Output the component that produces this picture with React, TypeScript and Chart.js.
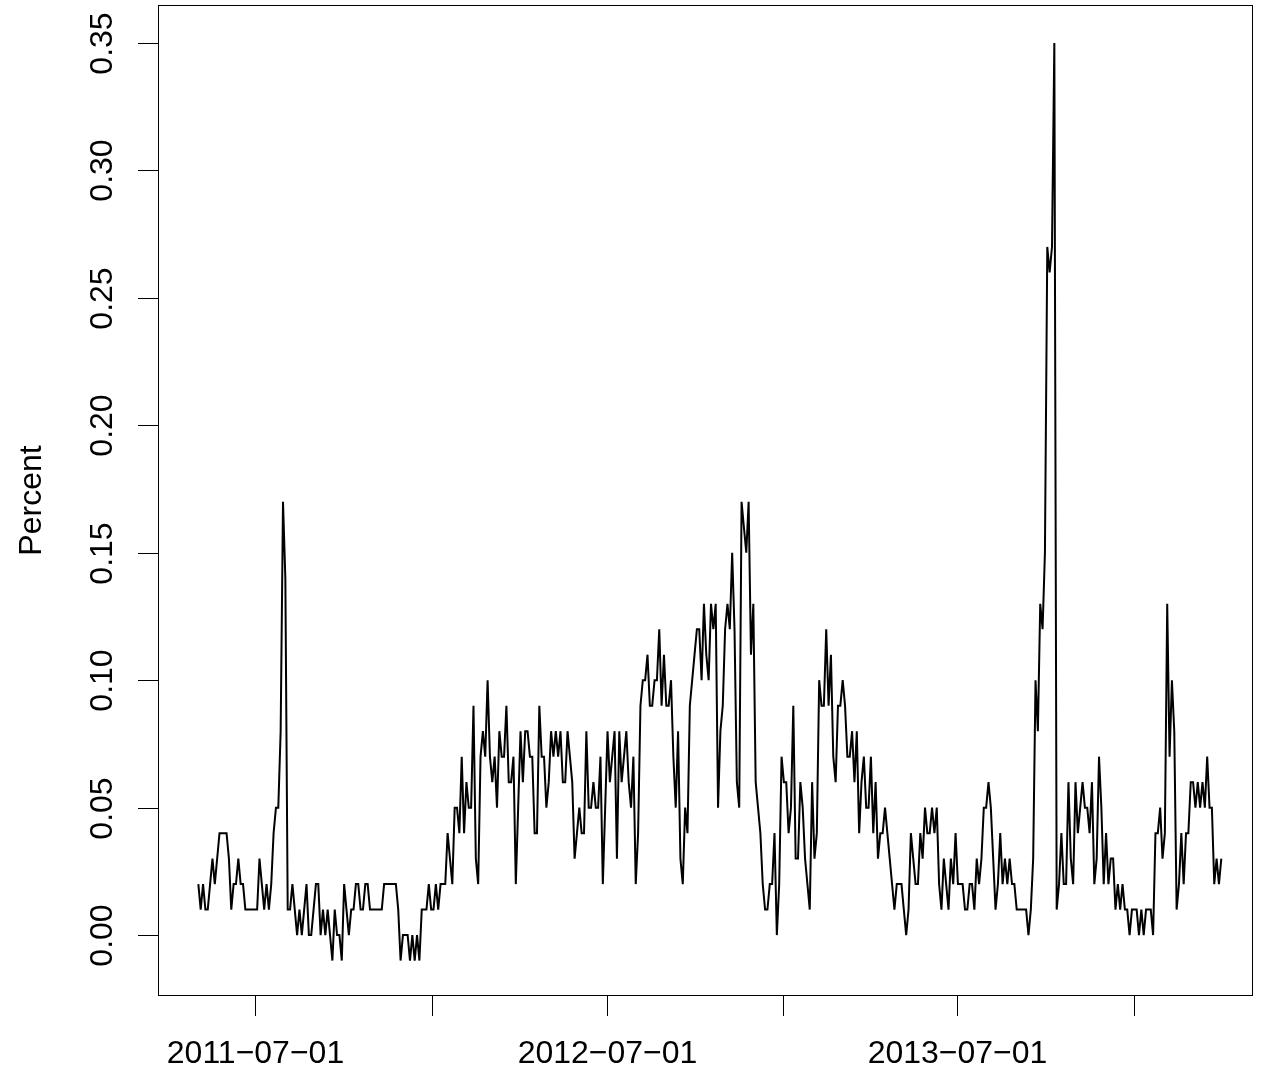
import React, { useEffect, useRef } from "react";
import { Chart, registerables } from "chart.js";
Chart.register(...registerables);

// values in hundredths of a percent, uniformly sampled
const seg1 = [2,1,2,1, 1,2,3,2,3, 4,4,4,4, 3,1,2,2,3,2,2, 1,1,1,1,1,1, 3,2,1,2,1,2, 4,5,5,8,17,14,
  1,1,2,1,0,1,0, 1,2,0,0,1,2,2,0,1,0,1, 0,-1,1,0,0,-1,2,1, 0,1,1,2,2,1,1,2,2,1, 1,1,1,1,1, 2,2,2,2,2,2,
  1,-1,0,0,0,-1,0,-1,0,-1, 1,1,1,2];
const seg2 = [1,1,2,1,2,2,2, 4,3,2,5,5,4,7,4,6,5,5, 9,3,2,7,8,7,10,7,6,7,5, 8,7,7,9,6,6,7,
  2,5,8,6,8,8,7,7,4,4,9, 7,7,5,6,8,7,8,7,8,6,6, 8,7,6,3,4,5,4,4, 8,5,5,6,5,5,7,2,5,8,6,
  7,8,3,8,6,7,8,6,5,7, 2,4,9,10,10,11,9,9,10,10, 12,9,11,9,9,10];
const seg3 = [7,5,8,3,2,5,4,9, 10,11,12,12,10,13,11,10,13,12,13, 5,8,9,12,13,12,15,12,6,5,17,16,15,17,11,13,
  6,5,4,2,1,1,2,2,4,0,2, 7,6,6,4,5,9,3,3,6,5,3, 2,1,6,3,4,10,9,9,12,9,11, 7,6,9,9,10,9,7,7,8,6,8,
  4,6,7,5,5,7,4,6,3,4,4, 5,4,3,2,1,2,2,2,1,0,1,4];
const seg4 = [3,2,2,4,3,5,4,4,5,4,5, 2,1,3,2,1,3,2, 4,2,2,2,1,1,2,2,1,3,2, 3,5,5,6,5,3,1,2,
  4,2,3,2,3,2,2,1,1,1,1,1,0,1,3, 10,8,13,12,15,27,26,27,35,1, 2,4,2,2,6,3,2,6,4,5,6,5,5,4,6,
  2,3,7,5,2,4,2,3,3,1,2,1,2, 1,1,0,1,1,1,0,1,0,1,1,1,0, 4,4,5,3,4,13,7,10,8,1,
  2,4,2,4,4,6,6,5,6, 5,6,5,7,5,5,2,3,2,3];
const hundredths = [...seg1, ...seg2, ...seg3, ...seg4];

// days relative to 2011-07-01
const startDay = -59;
const endDay = 1006;
const tickDays = [0, 184, 366, 550, 731, 915];
const tickLabels = ["2011\u221207\u221201", "", "2012\u221207\u221201", "", "2013\u221207\u221201", ""];
const yTicks = [0, 0.05, 0.1, 0.15, 0.2, 0.25, 0.3, 0.35];
const yTickLabels = ["0.00", "0.05", "0.10", "0.15", "0.20", "0.25", "0.30", "0.35"];

export default function App() {
  const ref = useRef<HTMLCanvasElement>(null);
  useEffect(() => {
    const n = hundredths.length;
    const data = hundredths.map((v, i) => ({ x: startDay + (i * (endDay - startDay)) / (n - 1), y: v / 100 }));
    const axes = {
      id: "rAxes",
      afterDraw(c: any) {
        const ctx = c.ctx;
        const a = c.chartArea;
        const xs = c.scales.x, ys = c.scales.y;
        ctx.save();
        ctx.strokeStyle = "#000";
        ctx.lineWidth = 1;
        ctx.strokeRect(a.left + 0.5, a.top + 0.5, a.right - a.left - 1, a.bottom - a.top - 1);
        ctx.fillStyle = "#000";
        ctx.font = "32px 'Liberation Sans', Arial, sans-serif";
        ctx.textAlign = "center";
        ctx.textBaseline = "middle";
        tickDays.forEach((d, i) => {
          const px = Math.round(xs.getPixelForValue(d)) + 0.5;
          ctx.beginPath();
          ctx.moveTo(px, a.bottom);
          ctx.lineTo(px, a.bottom + 20);
          ctx.stroke();
          if (tickLabels[i]) ctx.fillText(tickLabels[i], px, a.bottom + 58);
        });
        yTicks.forEach((v, i) => {
          const py = Math.round(ys.getPixelForValue(v)) + 0.5;
          ctx.beginPath();
          ctx.moveTo(a.left, py);
          ctx.lineTo(a.left - 20, py);
          ctx.stroke();
          ctx.save();
          ctx.translate(a.left - 55, py);
          ctx.rotate(-Math.PI / 2);
          ctx.fillText(yTickLabels[i], 0, 0);
          ctx.restore();
        });
        ctx.save();
        ctx.translate(32, (a.top + a.bottom) / 2);
        ctx.rotate(-Math.PI / 2);
        ctx.fillText("Percent", 0, 0);
        ctx.restore();
        ctx.restore();
      },
    };
    const chart = new Chart(ref.current!, {
      type: "line",
      data: { datasets: [{ data, borderColor: "#000", borderWidth: 2, pointRadius: 0, tension: 0, fill: false }] },
      options: {
        animation: false,
        responsive: false,
        layout: { padding: { left: 158, right: 19, top: 5, bottom: 76 } },
        plugins: { legend: { display: false }, tooltip: { enabled: false } },
        scales: {
          x: { type: "linear", min: -101, max: 1039, display: false },
          y: { min: -0.0239, max: 0.3649, display: false },
        },
      },
      plugins: [axes],
    });
    return () => chart.destroy();
  }, []);
  return (
    <canvas ref={ref} width={1272} height={1072}
      style={{ position: "fixed", left: 0, top: 0, width: 1272, height: 1072, background: "#fff" }} />
  );
}
